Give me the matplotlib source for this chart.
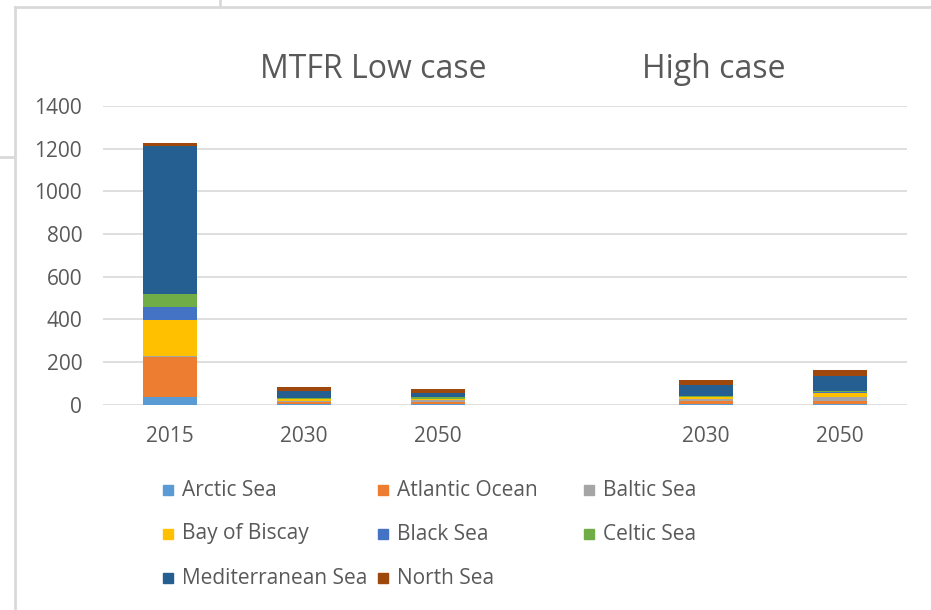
import matplotlib.pyplot as plt
from matplotlib.lines import Line2D
from matplotlib.patches import Rectangle
import numpy as np

plt.rcParams["font.family"] = ["Open Sans", "DejaVu Sans"]

# categories (the empty slot separates the two scenario groups)
years = ["2015", "2030", "2050", "", "2030", "2050"]

# stacked values per sea area
arctic = [37, 2, 2, 0, 1, 1]
atlantic = [187, 12, 9, 0, 14, 17]
baltic = [6, 5, 9, 0, 11, 19]
biscay = [167, 6, 8, 0, 11, 20]
black = [60, 2, 1, 0, 1, 1]
celtic = [61, 3, 5, 0, 5, 6]
mediterranean = [695, 36, 23, 0, 48, 69]
north = [14, 19, 17, 0, 23, 30]

series = ["Arctic Sea", "Atlantic Ocean", "Baltic Sea", "Bay of Biscay",
          "Black Sea", "Celtic Sea", "Mediterranean Sea", "North Sea"]
values = [arctic, atlantic, baltic, biscay, black, celtic, mediterranean, north]
colors = ["#5B9BD5", "#ED7D31", "#A5A5A5", "#FFC000",
          "#4472C4", "#70AD47", "#255E91", "#9E480E"]

group_titles = ["MTFR Low case", "High case"]
yticks = [0, 200, 400, 600, 800, 1000, 1200, 1400]

W, H = 931, 610
fig = plt.figure(figsize=(W / 100, H / 100), dpi=100)
ax = fig.add_axes([103 / W, 1 - 404.7 / H, 804 / W, (404.7 - 106) / H])

x = np.arange(len(years))
bottom = np.zeros(len(years))
for name, vals, c in zip(series, values, colors):
    vals = np.array(vals, dtype=float)
    ax.bar(x, vals, width=0.4, bottom=bottom, color=c, label=name,
           linewidth=0)
    bottom += vals

ax.set_xlim(-0.5, len(years) - 0.5)
ax.set_ylim(0, 1400)
ax.set_yticks(yticks)
ax.set_xticks(x)
ax.set_xticklabels(years)
ax.tick_params(length=0, labelsize=15, labelcolor="#595959")
ax.tick_params(axis="y", pad=15)
ax.tick_params(axis="x", pad=15)
ax.grid(axis="y", color="#d9d9d9", linewidth=1.2)
ax.set_axisbelow(True)
for s in ax.spines.values():
    s.set_visible(False)

# group titles
fig.text(373 / W, 1 - 69 / H, group_titles[0], ha="center", va="center",
         fontsize=23, color="#595959")
fig.text(714 / W, 1 - 69 / H, group_titles[1], ha="center", va="center",
         fontsize=23, color="#595959")

# legend, laid out row by row in three columns
col_x = [163, 378, 584]
row_y = [490, 534, 578]
for i, (name, c) in enumerate(zip(series, colors)):
    px = col_x[i % 3]
    py = row_y[i // 3]
    fig.patches.append(Rectangle((px / W, 1 - (py + 5) / H), 10 / W, 10 / H,
                                 transform=fig.transFigure, color=c))
    fig.text((px + 19) / W, 1 - py / H, name, ha="left", va="center",
             fontsize=15, color="#595959")

# chart frame
frame = "#d9d9d9"
fig.add_artist(Line2D([15 / W, 1], [1 - 7 / H, 1 - 7 / H], color=frame, lw=2))
fig.add_artist(Line2D([15 / W, 15 / W], [0, 1 - 7 / H], color=frame, lw=2))
fig.add_artist(Line2D([220 / W, 220 / W], [1 - 7 / H, 1], color=frame, lw=2))
fig.add_artist(Line2D([0, 15 / W], [1 - 157 / H, 1 - 157 / H], color=frame, lw=2))

fig.savefig("out.png", dpi=100)
